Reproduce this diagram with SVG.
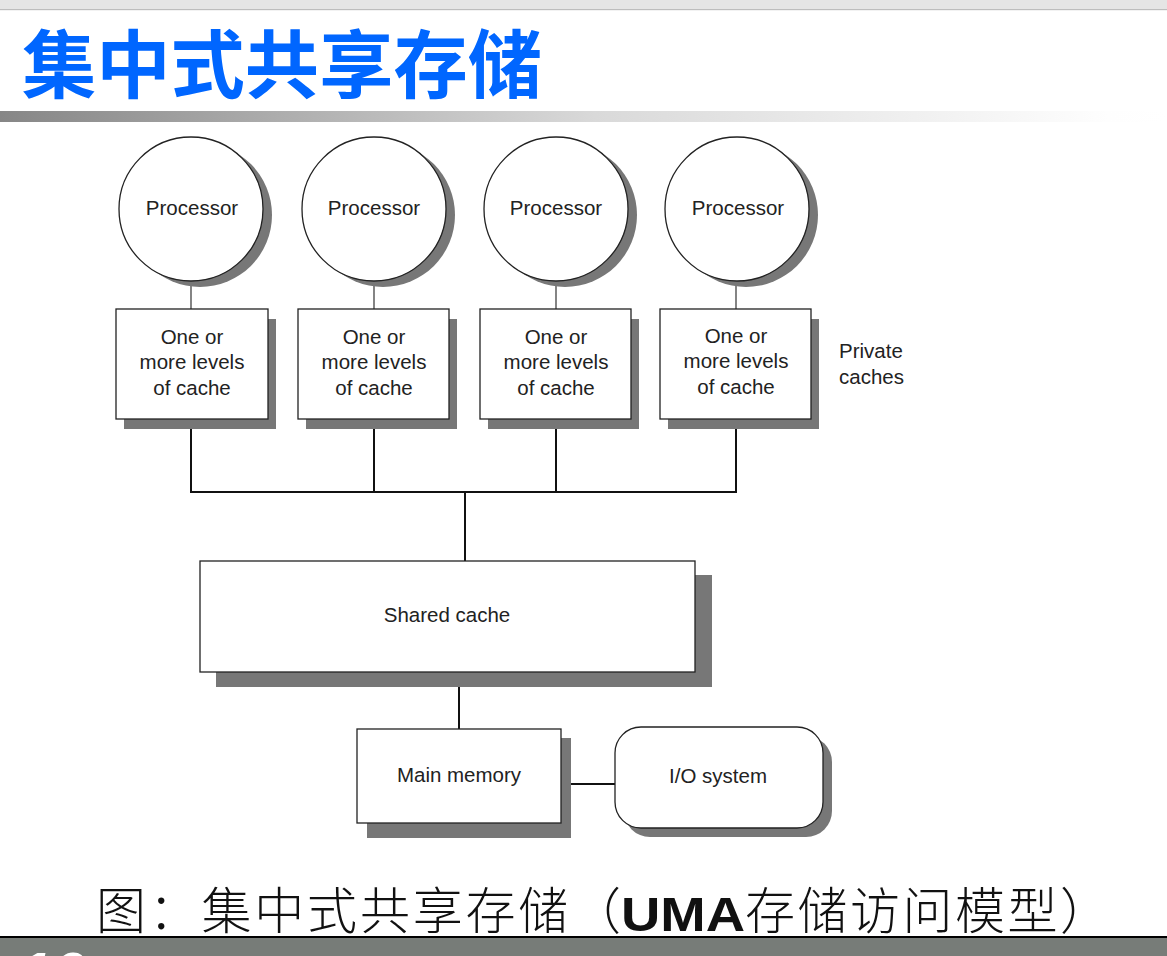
<svg xmlns="http://www.w3.org/2000/svg" width="1167" height="956" viewBox="0 0 1167 956">
  <defs>
    <linearGradient id="rule" x1="0" y1="0" x2="1" y2="0">
      <stop offset="0" stop-color="#868686"/>
      <stop offset="0.51" stop-color="#d9d9d9"/>
      <stop offset="0.95" stop-color="#fefefe"/>
      <stop offset="1" stop-color="#ffffff"/>
    </linearGradient>
    <style>
      .lbl { font-family: "Liberation Sans", Arial, sans-serif; font-size: 20.5px; fill: #222; text-anchor: middle; }
      .box { fill: #fff; stroke: #222; stroke-width: 1.3; }
      .shadow { fill: #777; }
      .thin { stroke: #333; stroke-width: 1.2; fill: none; }
      .wire { stroke: #111; stroke-width: 2; fill: none; }
      .cap { font-family: "Noto Sans CJK SC", sans-serif; font-weight: 300; font-size: 50px; fill: #111; }
    </style>
  </defs>

  <!-- page background and header band -->
  <rect x="0" y="0" width="1167" height="956" fill="#fff"/>
  <rect x="0" y="0" width="1167" height="9" fill="#e5e5e5"/>
  <rect x="0" y="9" width="1167" height="1.2" fill="#bdbdbd"/>
  <text x="22" y="92" font-family="Noto Sans CJK SC, sans-serif" font-weight="700" font-size="74" fill="#0066ff" textLength="520" lengthAdjust="spacingAndGlyphs">集中式共享存储</text>
  <rect x="0" y="111" width="1167" height="11" fill="url(#rule)"/>

  <!-- connectors -->
  <g id="connectors">
    <line class="thin" x1="191" y1="281" x2="191" y2="309"/>
    <line class="thin" x1="374" y1="281" x2="374" y2="309"/>
    <line class="thin" x1="556" y1="281" x2="556" y2="309"/>
    <line class="thin" x1="736" y1="281" x2="736" y2="309"/>
    <polyline class="wire" points="191,419 191,492 736,492 736,419"/>
    <line class="wire" x1="374" y1="419" x2="374" y2="492"/>
    <line class="wire" x1="556" y1="419" x2="556" y2="492"/>
    <line class="wire" x1="465" y1="492" x2="465" y2="561"/>
    <line class="wire" x1="459" y1="672" x2="459" y2="729"/>
    <line class="wire" x1="561" y1="784" x2="615" y2="784"/>
  </g>

  <!-- processors -->
  <g id="proc1">
    <circle class="shadow" cx="200" cy="215" r="72"/>
    <circle class="box" cx="191" cy="209" r="72"/>
    <text class="lbl" x="192" y="215">Processor</text>
  </g>
  <g id="proc2">
    <circle class="shadow" cx="383" cy="215" r="72"/>
    <circle class="box" cx="374" cy="209" r="72"/>
    <text class="lbl" x="374" y="215">Processor</text>
  </g>
  <g id="proc3">
    <circle class="shadow" cx="565" cy="215" r="72"/>
    <circle class="box" cx="556" cy="209" r="72"/>
    <text class="lbl" x="556" y="215">Processor</text>
  </g>
  <g id="proc4">
    <circle class="shadow" cx="746" cy="215" r="72"/>
    <circle class="box" cx="737" cy="209" r="72"/>
    <text class="lbl" x="738" y="215">Processor</text>
  </g>

  <!-- private caches -->
  <g id="cache1">
    <rect class="shadow" x="124" y="319" width="152" height="110"/>
    <rect class="box" x="116" y="309" width="152" height="110"/>
    <text class="lbl" x="192" y="344">One or</text>
    <text class="lbl" x="192" y="369">more levels</text>
    <text class="lbl" x="192" y="395">of cache</text>
  </g>
  <g id="cache2">
    <rect class="shadow" x="306" y="319" width="151" height="110"/>
    <rect class="box" x="298" y="309" width="151" height="110"/>
    <text class="lbl" x="374" y="344">One or</text>
    <text class="lbl" x="374" y="369">more levels</text>
    <text class="lbl" x="374" y="395">of cache</text>
  </g>
  <g id="cache3">
    <rect class="shadow" x="488" y="319" width="151" height="110"/>
    <rect class="box" x="480" y="309" width="151" height="110"/>
    <text class="lbl" x="556" y="344">One or</text>
    <text class="lbl" x="556" y="369">more levels</text>
    <text class="lbl" x="556" y="395">of cache</text>
  </g>
  <g id="cache4">
    <rect class="shadow" x="668" y="319" width="151" height="110"/>
    <rect class="box" x="660" y="309" width="151" height="110"/>
    <text class="lbl" x="736" y="343">One or</text>
    <text class="lbl" x="736" y="368">more levels</text>
    <text class="lbl" x="736" y="394">of cache</text>
  </g>
  <g id="private-label">
    <text class="lbl" x="839" y="358" text-anchor="start" style="text-anchor:start">Private</text>
    <text class="lbl" x="839" y="384" style="text-anchor:start">caches</text>
  </g>

  <!-- shared cache -->
  <g id="shared">
    <rect class="shadow" x="216" y="575" width="496" height="112"/>
    <rect class="box" x="200" y="561" width="495" height="111"/>
    <text class="lbl" x="447" y="622">Shared cache</text>
  </g>

  <!-- main memory -->
  <g id="memory">
    <rect class="shadow" x="367" y="738" width="204" height="100"/>
    <rect class="box" x="357" y="729" width="204" height="94"/>
    <text class="lbl" x="459" y="782">Main memory</text>
  </g>

  <!-- I/O system -->
  <g id="io">
    <rect class="shadow" x="624" y="736" width="208" height="101" rx="26"/>
    <rect class="box" x="615" y="727" width="208" height="101" rx="26"/>
    <text class="lbl" x="718" y="783">I/O system</text>
  </g>

  <!-- caption -->
  <g id="caption">
    <text class="cap" x="96" y="929" textLength="525" lengthAdjust="spacing">图：集中式共享存储（</text>
    <text x="621" y="931" font-family="Liberation Sans, Arial, sans-serif" font-weight="900" font-size="48" fill="#111" textLength="124" lengthAdjust="spacingAndGlyphs">UMA</text>
    <text class="cap" x="745" y="929" textLength="365" lengthAdjust="spacing">存储访问模型）</text>
  </g>

  <!-- footer band -->
  <rect x="0" y="936" width="1167" height="2" fill="#000"/>
  <rect x="0" y="938" width="1167" height="18" fill="#777c78"/>
  <text x="18" y="994" font-family="Liberation Sans, Arial, sans-serif" font-weight="700" font-style="italic" font-size="60" fill="#fff">16</text>
</svg>
